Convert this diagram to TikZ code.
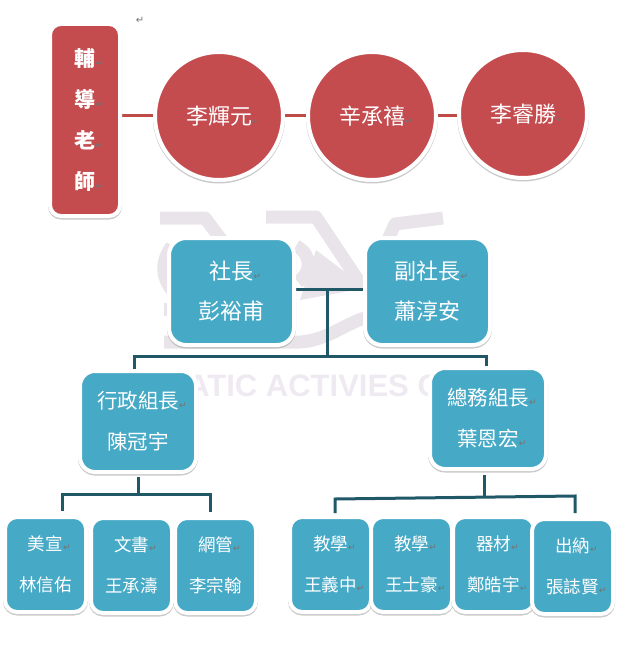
\documentclass[tikz,border=0pt]{standalone}
\usepackage{fontspec}
\newfontfamily\cjk{Noto Sans CJK TC}
\newfontfamily\dejavu{DejaVu Sans}
\newfontfamily\wmfont{Liberation Sans}
\usetikzlibrary{
    positioning,
    calc,
    backgrounds,
    shadows
}
\definecolor{clubred}{HTML}{C44C4F}
\definecolor{clubblue}{HTML}{46A9C6}
\definecolor{linkteal}{HTML}{215868}
\definecolor{linkred}{HTML}{BE4B48}
\definecolor{markgray}{HTML}{E9E4E9}
\definecolor{markpale}{HTML}{EFE9F1}
\newcommand{\retmark}{\rlap{\fontsize{9}{9}\selectfont\dejavu\textcolor{black!55}{↵}}}

\begin{document}
\begin{tikzpicture}[
        x=1pt,
        y=-1pt,
        node distance=5pt,
        every node/.style={outer sep=0pt},
        card/.style={
            rectangle,
            draw=white,
            line width=4pt,
            text=white,
            align=center,
            inner sep=0pt,
            drop shadow={shadow xshift=0pt,shadow yshift=-1.5pt,
                fill=black!35,draw=black!35,line width=4pt,opacity=.6}
        },
        teacherbox/.style={
            card,
            rounded corners=11pt,
            fill=clubred,
            minimum width=70pt,
            minimum height=192pt,
            font={\cjk\bfseries\fontsize{21}{41}\selectfont}
        },
        advisor/.style={
            card,
            circle,
            fill=clubred,
            minimum size=128pt,
            font={\cjk\fontsize{22}{40}\selectfont}
        },
        leader/.style={
            card,
            rounded corners=17pt,
            fill=clubblue,
            minimum width=125pt,
            minimum height=107pt,
            font={\cjk\fontsize{22}{40}\selectfont}
        },
        head/.style={
            card,
            rounded corners=15pt,
            fill=clubblue,
            minimum width=116pt,
            minimum height=101pt,
            font={\cjk\fontsize{20.5}{41}\selectfont},
            execute at begin node={\rule{0pt}{23pt}}
        },
        staff/.style={
            card,
            rounded corners=12pt,
            fill=clubblue,
            minimum width=81pt,
            minimum height=95pt,
            font={\cjk\fontsize{17.5}{41}\selectfont},
            execute at begin node={\rule{0pt}{23.5pt}}
        },
        redlink/.style={draw=linkred,line width=3pt},
        tealink/.style={draw=linkteal,line width=3pt,line join=miter},
        wmstroke/.style={draw=markgray,line width=13pt,line join=round}
    ]
        \useasboundingbox (0,0) rectangle (619,647);

        % Faint logo behind the officers
        \begin{scope}[on background layer]
            \draw[wmstroke] (160,218) -- (205,218) -- (226,246);
            \draw[wmstroke] (172,246) .. controls (160,262) and (162,278) .. (172,290);
            \draw[wmstroke] (296,246) .. controls (312,254) and (312,272) .. (298,282);
            \draw[wmstroke] (266,217) -- (316,217) -- (362,286);
            \fill[markgray] (316,250) -- (366,288) -- (300,300) -- cycle;
            \draw[wmstroke] (164,309) -- (180,309);
            \draw[wmstroke] (164,342) -- (300,342) .. controls (330,340) and (345,322) .. (372,316);
            \draw[wmstroke] (443,218) -- (395,224) -- (386,244);
            \node[font={\wmfont\bfseries\fontsize{31}{31}\selectfont},text=markpale,
                anchor=west] (watermark) at (184,386) {ATIC ACTIVIES C};
        \end{scope}

        \node[font={\fontsize{10}{10}\selectfont\dejavu},text=black!55] (topmark) at (140,20) {↵};

        % Advisors
        \node[teacherbox] (teacher) at (85,120)
            {輔\retmark\\導\retmark\\老\retmark\\師\retmark};
        \node[advisor, right=35pt of teacher, yshift=4pt] (advisorone) {李輝元\retmark};
        \node[advisor, right=25pt of advisorone] (advisortwo) {辛承禧\retmark};
        \node[advisor, right=23pt of advisortwo, yshift=2pt] (advisorthree) {李睿勝\retmark};

        % Officers
        \node[leader] (president) at (231.5,291.5) {社長\retmark\\彭裕甫};
        \node[leader, right=71pt of president] (vice) {副社長\retmark\\蕭淳安};
        \node[head] (admin) at (138,421.5) {行政組長\retmark\\陳冠宇};
        \node[head] (affairs) at (488,418.5) {總務組長\retmark\\葉恩宏\retmark};

        % Administration staff
        \node[staff] (design) at (45.5,564.5) {美宣\retmark\\林信佑};
        \node[staff, right=of design, yshift=-1pt] (clerk) {文書\retmark\\王承濤};
        \node[staff, right=3pt of clerk] (webadmin) {網管\retmark\\李宗翰};

        % General affairs staff
        \node[staff] (teachone) at (330.5,564.5) {教學\retmark\\王義中\retmark};
        \node[staff, right=0pt of teachone] (teachtwo) {教學\retmark\\王士豪\retmark};
        \node[staff, right=1pt of teachtwo] (gear) {器材\retmark\\鄭皓宇\retmark};
        \node[staff, right=-2pt of gear, yshift=-2pt] (cashier) {出納\retmark\\張誌賢\retmark};

        \coordinate (presfork) at (327,289);
        \coordinate (midfork) at (327,356);
        \coordinate (admindrop) at (134,373);
        \coordinate (affairsdrop) at (486,370);
        \coordinate (adminfork) at (138,494);
        \coordinate (designdrop) at (62,511);
        \coordinate (webdrop) at (210,512);
        \coordinate (affairsfork) at (484,497);
        \coordinate (teachdrop) at (335,513);
        \coordinate (cashdrop) at (575,513);

        \begin{scope}[on background layer]
            \draw[redlink] (advisorone.west -| teacher.east) -- (advisorone.west);
            \draw[redlink] (advisorone.east) -- (advisortwo.west);
            \draw[redlink] (advisortwo.east) -- (advisortwo.east -| advisorthree.west);

            \draw[tealink] (presfork -| president.east) -- (presfork -| vice.west);
            \draw[tealink] (presfork) -- (midfork);
            \draw[tealink] (admindrop) -- (admindrop |- midfork)
                -- (affairsdrop |- midfork) -- (affairsdrop);

            \draw[tealink,shorten <=5pt] (adminfork |- admin.south) -- (adminfork);
            \draw[tealink] (designdrop) -- (designdrop |- adminfork)
                -- (webdrop |- adminfork) -- (webdrop);

            \draw[tealink,shorten <=6pt] (affairsfork |- affairs.south) -- (affairsfork);
            \draw[tealink] (teachdrop) -- ($(teachdrop |- affairsfork)+(0,2)$)
                -- ($(cashdrop |- affairsfork)+(0,-1)$) -- (cashdrop);
        \end{scope}
    \end{tikzpicture}
\end{document}
